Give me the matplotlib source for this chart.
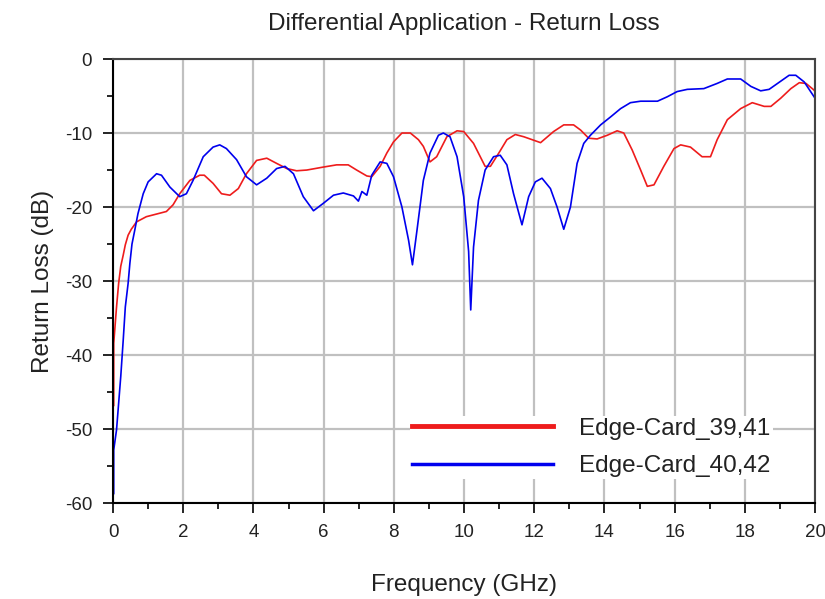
import numpy as np
import matplotlib.pyplot as plt

# Edge-Card_39,41 (red)
f_red = [0.02, 0.02, 0.1, 0.16, 0.22, 0.29, 0.35, 0.43, 0.52, 0.67, 0.95, 1.52, 1.71, 1.9,
         2.19, 2.47, 2.6, 2.85, 3.09, 3.33, 3.57, 3.8, 4.09, 4.38, 4.66, 4.95, 5.23, 5.52,
         5.99, 6.37, 6.7, 6.94, 7.23, 7.37, 7.61, 7.8, 7.99, 8.23, 8.47, 8.7, 8.84, 9.03,
         9.22, 9.51, 9.8, 9.99, 10.27, 10.6, 10.75, 10.99, 11.22, 11.46, 11.7, 12.18, 12.55,
         12.84, 13.12, 13.32, 13.55, 13.79, 14.08, 14.36, 14.55, 14.79, 15.03, 15.22, 15.41,
         15.69, 15.98, 16.17, 16.45, 16.78, 17.02, 17.21, 17.5, 17.88, 18.21, 18.55, 18.74,
         19.02, 19.31, 19.55, 19.74, 19.97, 20.0]
rl_red = [-46.8, -38.4, -33.5, -30.3, -28.0, -26.5, -25.1, -23.8, -23.0, -22.0, -21.3, -20.6,
          -19.7, -18.2, -16.4, -15.7, -15.7, -16.8, -18.2, -18.4, -17.5, -15.5, -13.7, -13.4,
          -14.1, -14.8, -15.1, -15.0, -14.6, -14.3, -14.3, -15.0, -15.8, -15.9, -14.5, -12.7,
          -11.2, -10.0, -10.0, -10.9, -11.8, -13.9, -13.2, -10.5, -9.7, -9.8, -11.4, -14.5,
          -14.5, -12.7, -10.9, -10.2, -10.5, -11.3, -9.8, -8.9, -8.9, -9.6, -10.7, -10.8,
          -10.3, -9.7, -10.0, -12.3, -15.0, -17.2, -17.0, -14.5, -12.1, -11.6, -11.9, -13.2,
          -13.2, -10.9, -8.2, -6.7, -5.9, -6.4, -6.4, -5.3, -4.0, -3.2, -3.3, -4.2, -4.4]

# Edge-Card_40,42 (blue)
f_blue = [0.02, 0.02, 0.1, 0.16, 0.22, 0.29, 0.35, 0.43, 0.48, 0.54, 0.62, 0.71, 0.86, 1.0,
          1.24, 1.38, 1.62, 1.9, 2.09, 2.28, 2.57, 2.85, 3.04, 3.23, 3.52, 3.8, 4.09, 4.38,
          4.66, 4.9, 5.14, 5.42, 5.71, 5.99, 6.28, 6.56, 6.85, 6.99, 7.09, 7.23, 7.37, 7.61,
          7.8, 7.99, 8.23, 8.42, 8.53, 8.66, 8.84, 9.03, 9.27, 9.41, 9.6, 9.8, 9.99, 10.13,
          10.19, 10.27, 10.41, 10.6, 10.84, 11.03, 11.22, 11.41, 11.65, 11.84, 12.03, 12.22,
          12.46, 12.65, 12.84, 13.03, 13.22, 13.41, 13.6, 13.89, 14.18, 14.46, 14.74, 15.03,
          15.51, 15.79, 16.07, 16.36, 16.83, 17.21, 17.5, 17.88, 18.17, 18.45, 18.69, 18.93,
          19.26, 19.45, 19.69, 19.97, 20.0]
rl_blue = [-58.7, -52.8, -50.1, -46.5, -42.9, -38.0, -33.5, -30.3, -27.6, -25.0, -23.1, -20.9,
           -18.2, -16.6, -15.5, -15.7, -17.3, -18.6, -18.2, -16.4, -13.2, -11.9, -11.6, -12.1,
           -13.6, -15.9, -17.0, -16.1, -14.8, -14.5, -15.5, -18.6, -20.5, -19.5, -18.4, -18.1,
           -18.5, -19.2, -17.9, -18.4, -15.7, -13.9, -14.1, -15.9, -20.0, -24.5, -27.8, -23.1,
           -16.4, -12.7, -10.3, -10.0, -10.5, -13.2, -18.6, -26.0, -33.9, -25.4, -19.1, -15.0,
           -13.2, -13.0, -14.3, -18.2, -22.4, -18.6, -16.6, -16.1, -17.5, -20.0, -23.0, -20.0,
           -14.1, -11.4, -10.3, -8.9, -7.8, -6.7, -5.9, -5.7, -5.7, -5.1, -4.4, -4.1, -4.0,
           -3.3, -2.7, -2.7, -3.7, -4.3, -4.1, -3.3, -2.2, -2.2, -3.1, -5.1, -5.3]

x_ticks = np.arange(0, 21, 2)
y_ticks = np.arange(-60, 1, 10)

plt.rcParams['font.family'] = ['Liberation Sans', 'DejaVu Sans']
plt.rcParams['axes.unicode_minus'] = False

fig = plt.figure(figsize=(8.25, 5.99), dpi=100)
ax = fig.add_axes([0.137, 0.160, 0.851, 0.7415])

ax.plot(f_red, rl_red, color='#ee1c1c', lw=1.2, label='Edge-Card_39,41')
ax.plot(f_blue, rl_blue, color='#0000ee', lw=1.2, label='Edge-Card_40,42')

ax.set_xlim(0, 20)
ax.set_ylim(-60, 0)
ax.set_xticks(x_ticks)
ax.set_yticks(y_ticks)
ax.set_xticks(np.arange(1, 20, 2), minor=True)
ax.set_yticks(np.arange(-55, 0, 10), minor=True)
ax.grid(True, which='major', color='#c0c0c0', lw=1.6)
ax.set_axisbelow(True)

ax.tick_params(which='major', length=7, width=1.2, color='black', labelsize=13.5,
               labelcolor='#222222', pad=8)
ax.tick_params(which='minor', length=4, width=1.2, color='black')
for s in ['left', 'bottom']:
    ax.spines[s].set_color('black')
    ax.spines[s].set_linewidth(1.5)
for s in ['top', 'right']:
    ax.spines[s].set_color('#444444')
    ax.spines[s].set_linewidth(1.5)

ax.set_title('Differential Application - Return Loss', fontsize=17.5, color='#222222', pad=21)
ax.set_xlabel('Frequency (GHz)', fontsize=17.5, color='#222222', labelpad=24)
ax.set_ylabel('Return Loss (dB)', fontsize=17.5, color='#222222', labelpad=8)

leg = ax.legend(loc='lower right', bbox_to_anchor=(0.957, 0.026), frameon=True, fontsize=17.5,
                handlelength=5.8, handletextpad=1.05, labelspacing=0.62, borderpad=0.1)
leg.get_frame().set_facecolor('white')
leg.get_frame().set_edgecolor('none')
leg.get_frame().set_alpha(1)
leg.get_frame().set_boxstyle('square', pad=0)
leg.get_lines()[0].set_linewidth(3.5)
leg.get_lines()[1].set_linewidth(2.5)
for t in leg.get_texts():
    t.set_color('#222222')

fig.savefig('out.png', dpi=100)
